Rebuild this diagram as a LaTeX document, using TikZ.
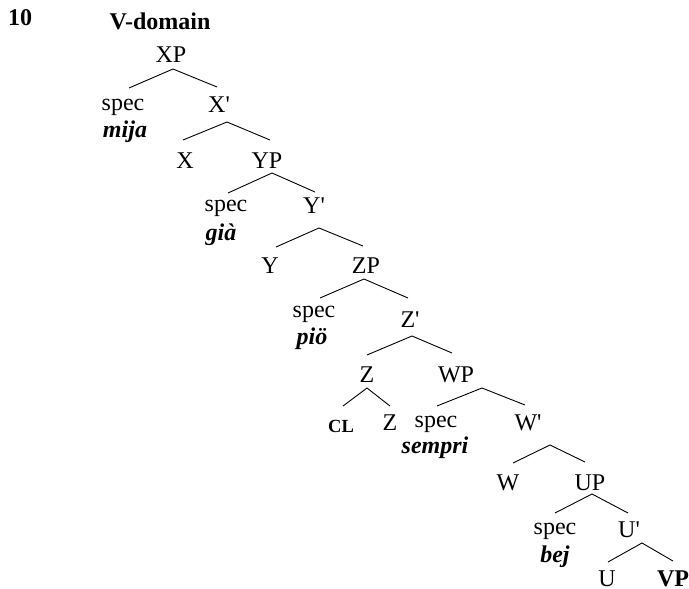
\documentclass[tikz,border=0pt]{standalone}
\usepackage{fontspec}
\setmainfont{Liberation Serif}[Ligatures=TeXOff]
\begin{document}
\begin{tikzpicture}[x=1pt,y=-1pt,
  lab/.style={anchor=base,inner sep=0pt,font=\fontsize{24}{28}\selectfont},
  word/.style={lab,font=\fontsize{24}{28}\selectfont\bfseries\itshape},
  branch/.style={line width=0.9pt,line join=miter}]
\useasboundingbox (0,0) rectangle (689,589);
\node[lab,anchor=base west,font=\fontsize{24}{28}\selectfont\bfseries] (num) at (8,25) {10};
\node[lab,font=\fontsize{24}{28}\selectfont\bfseries] (title) at (160,30) {V-domain};
% level texts
\node[lab] (XP) at (171,63) {XP};
\node[lab] (specX) at (123,110) {spec};
\node[lab] (Xb) at (219,112) {X'};
\node[word] (mija) at (125,137) {mija};
\node[lab] (X) at (185,168) {X};
\node[lab] (YP) at (267,168) {YP};
\node[lab] (specY) at (226,211) {spec};
\node[lab] (Yb) at (314,213) {Y'};
\node[word] (gia) at (221,240) {già};
\node[lab] (Y) at (270,273) {Y};
\node[lab] (ZP) at (366,273) {ZP};
\node[lab] (specZ) at (314,317) {spec};
\node[lab] (Zb) at (410,327) {Z'};
\node[word] (pio) at (312,344) {piö};
\node[lab] (Z) at (367,382) {Z};
\node[lab] (WP) at (456,382) {WP};
\node[lab,font=\fontsize{18.5}{20}\selectfont\bfseries] (CL) at (341,432) {CL};
\node[lab] (Z2) at (390,430) {Z};
\node[lab] (specW) at (436,427) {spec};
\node[lab] (Wb) at (528,430) {W'};
\node[word] (sempri) at (435,453) {sempri};
\node[lab] (W) at (508,490) {W};
\node[lab] (UP) at (590,490) {UP};
\node[lab] (specU) at (555,534) {spec};
\node[lab] (Ub) at (629,537) {U'};
\node[word] (bej) at (555,562) {bej};
\node[lab] (U) at (607,586) {U};
\node[lab,font=\fontsize{24}{28}\selectfont\bfseries] (VP) at (673,586) {VP};
% branch points
\coordinate (XPt) at (173,69);  \coordinate (XPl) at (129,88);  \coordinate (XPr) at (217,87);
\coordinate (Xbt) at (227,122); \coordinate (Xbl) at (183,140); \coordinate (Xbr) at (270,140);
\coordinate (YPt) at (272,173); \coordinate (YPl) at (228,193); \coordinate (YPr) at (315,192);
\coordinate (Ybt) at (319,228); \coordinate (Ybl) at (276,247); \coordinate (Ybr) at (363,246);
\coordinate (ZPt) at (364,279); \coordinate (ZPl) at (320,298); \coordinate (ZPr) at (408,298);
\coordinate (Zbt) at (412,336); \coordinate (Zbl) at (367,355); \coordinate (Zbr) at (452,353);
\coordinate (Zt) at (367,388);  \coordinate (Zl) at (343,406);  \coordinate (Zr) at (390,406);
\coordinate (WPt) at (482,388); \coordinate (WPl) at (437,406); \coordinate (WPr) at (525,405);
\coordinate (Wbt) at (550,445); \coordinate (Wbl) at (513,463); \coordinate (Wbr) at (585,462);
\coordinate (UPt) at (592,494); \coordinate (UPl) at (555,513); \coordinate (UPr) at (628,513);
\coordinate (Ubt) at (642,543); \coordinate (Ubl) at (608,562); \coordinate (Ubr) at (673,561);
\foreach \n in {XP,Xb,YP,Yb,ZP,Zb,Z,WP,Wb,UP,Ub}
  \draw[branch] (\n l) -- (\n t) -- (\n r);
\end{tikzpicture}
\end{document}
